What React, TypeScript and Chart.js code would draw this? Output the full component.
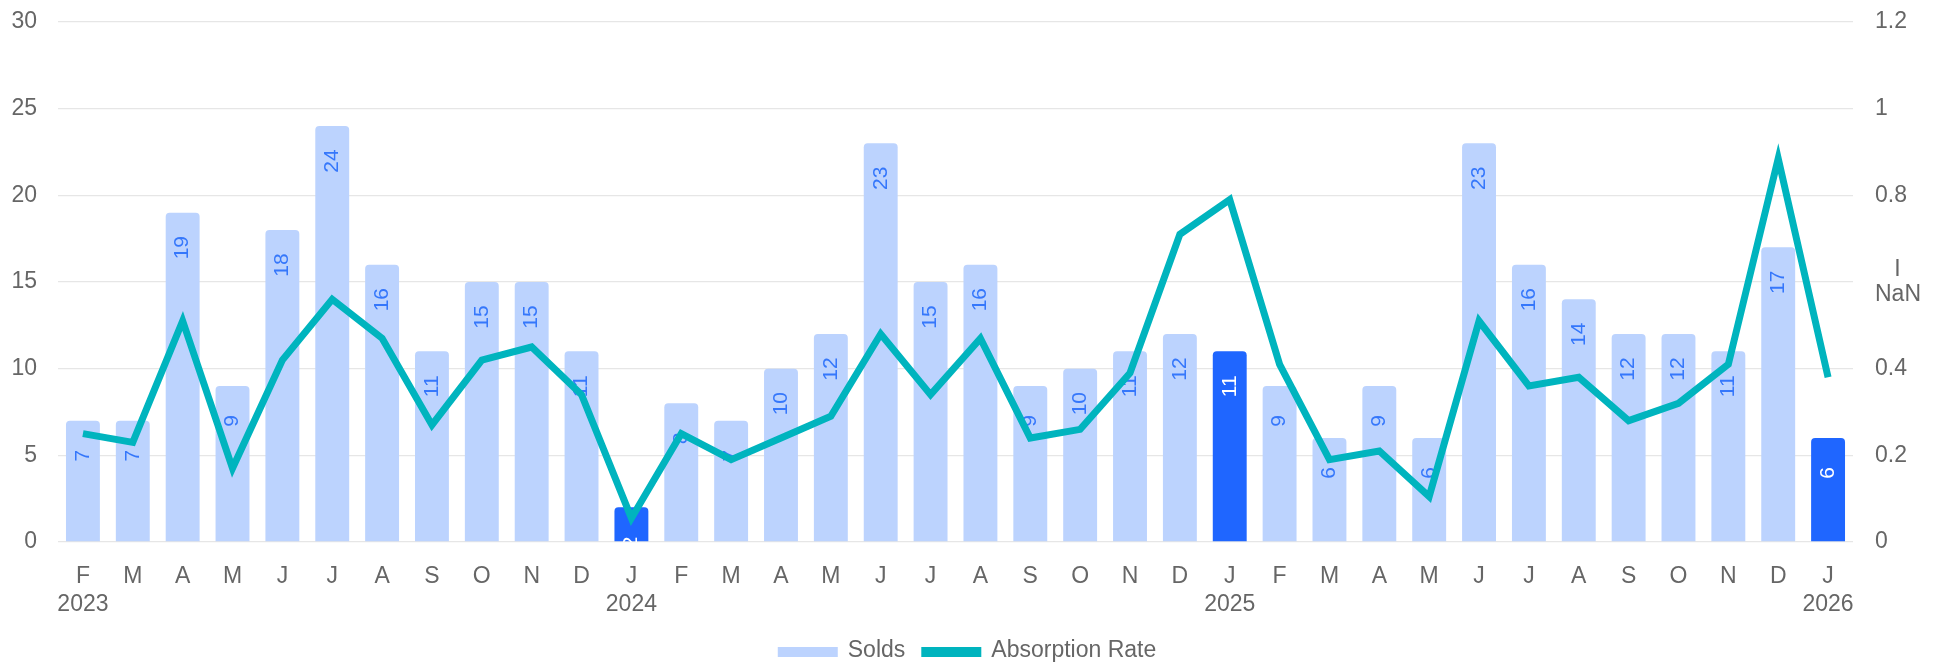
import React, { useEffect, useRef } from "react";
import { Chart, registerables } from "chart.js";

Chart.register(...registerables);

const months = ["F","M","A","M","J","J","A","S","O","N","D","J","F","M","A","M","J","J","A","S","O","N","D","J","F","M","A","M","J","J","A","S","O","N","D","J"];
const years = ["2023","","","","","","","","","","","2024","","","","","","","","","","","","2025","","","","","","","","","","","","2026"];
const solds = [7,7,19,9,18,24,16,11,15,15,11,2,8,7,10,12,23,15,16,9,10,11,12,11,9,6,9,6,23,16,14,12,12,11,17,6];
const absorption = [0.25,0.23,0.51,0.17,0.42,0.56,0.47,0.27,0.42,0.45,0.34,0.055,0.25,0.19,0.24,0.29,0.48,0.34,0.47,0.24,0.26,0.39,0.71,0.79,0.41,0.19,0.21,0.105,0.51,0.36,0.38,0.28,0.32,0.41,0.885,0.38];
const leftTicks = [0,5,10,15,20,25,30];
const rightTicks = [0,0.2,0.4,0.6,0.8,1,1.2];

const LIGHT = "#bcd3fe";
const DARK = "#1f66ff";
const LINE = "#00b4be";
const TEXT = "#666666";
const FONT = "'Liberation Sans', Arial, Helvetica, sans-serif";

const labels = months.map((m, i) => (years[i] ? [m, years[i]] : m));
const isCurrent = (i: number) => months[i] === "J" && years[i] !== "";

const barLabelPlugin = {
  id: "barLabels",
  afterDatasetDraw(chart: any, args: any) {
    if (args.index !== 0) return;
    const { ctx, chartArea } = chart;
    ctx.save();
    ctx.beginPath();
    ctx.rect(chartArea.left, chartArea.top, chartArea.right - chartArea.left, chartArea.bottom - chartArea.top);
    ctx.clip();
    ctx.font = `21px ${FONT}`;
    ctx.textAlign = "center";
    ctx.textBaseline = "middle";
    args.meta.data.forEach((bar: any, i: number) => {
      ctx.save();
      ctx.translate(bar.x, bar.y + 35);
      ctx.rotate(-Math.PI / 2);
      ctx.fillStyle = isCurrent(i) ? "#ffffff" : "#3577fb";
      ctx.fillText(String(solds[i]), 0, 0);
      ctx.restore();
    });
    ctx.restore();
  },
};

const legendPlugin = {
  id: "customLegend",
  afterDraw(chart: any) {
    const { ctx } = chart;
    const items = chart.data.datasets.map((d: any, i: number) => ({
      text: d.label,
      color: i === 0 ? LIGHT : LINE,
    }));
    ctx.save();
    ctx.font = `23px ${FONT}`;
    ctx.textAlign = "left";
    ctx.textBaseline = "middle";
    const boxW = 60;
    const boxH = 10;
    const gap = 10;
    const itemGap = 16;
    const widths = items.map((it: any) => boxW + gap + ctx.measureText(it.text).width);
    const total = widths.reduce((a: number, b: number) => a + b, 0) + itemGap * (items.length - 1);
    let x = 967 - total / 2;
    const y = 652;
    items.forEach((it: any, i: number) => {
      ctx.fillStyle = it.color;
      ctx.fillRect(x, y - boxH / 2, boxW, boxH);
      ctx.fillStyle = TEXT;
      ctx.fillText(it.text, x + boxW + gap, y - 1);
      x += widths[i] + itemGap;
    });
    ctx.restore();
  },
};

export default function App() {
  const ref = useRef<HTMLCanvasElement>(null);
  useEffect(() => {
    const canvas = ref.current!;
    Chart.defaults.font.family = FONT;
    Chart.defaults.color = TEXT;
    const chart = new Chart(canvas, {
      type: "bar",
      data: {
        labels,
        datasets: [
          {
            type: "bar",
            label: "Solds",
            data: solds,
            backgroundColor: solds.map((_, i) => (isCurrent(i) ? DARK : LIGHT)),
            borderRadius: 4,
            borderSkipped: "start",
            barPercentage: 0.85,
            categoryPercentage: 0.8,
            yAxisID: "y",
            order: 1,
          },
          {
            type: "line",
            label: "Absorption Rate",
            data: absorption,
            borderColor: LINE,
            backgroundColor: LINE,
            borderWidth: 7,
            pointRadius: 0,
            tension: 0,
            yAxisID: "y1",
            order: 0,
          },
        ],
      } as any,
      options: {
        animation: false,
        responsive: false,
        devicePixelRatio: 1,
        layout: { padding: { left: 0, right: 0, top: 22, bottom: 34 } },
        plugins: {
          tooltip: { enabled: false },
          legend: { display: false },
        },
        scales: {
          x: {
            grid: { display: false, drawTicks: false },
            border: { display: false },
            ticks: {
              padding: 21,
              maxRotation: 0,
              autoSkip: false,
              color: TEXT,
              font: { size: 23, family: FONT, lineHeight: 1.2 },
            },
            afterFit: (s: any) => { s.height = 89; s.paddingLeft = 0; s.paddingRight = 0; },
          },
          y: {
            position: "left",
            min: leftTicks[0],
            max: leftTicks[leftTicks.length - 1],
            afterBuildTicks: (s: any) => { s.ticks = leftTicks.map((v) => ({ value: v })); },
            grid: { color: "#e6e6e6", lineWidth: 1.3, drawTicks: false },
            border: { display: false },
            ticks: { padding: 21, color: TEXT, font: { size: 23, family: FONT } },
            afterFit: (s: any) => { s.width = 58; s.paddingTop = 0; s.paddingBottom = 0; },
          },
          y1: {
            position: "right",
            min: rightTicks[0],
            max: rightTicks[rightTicks.length - 1],
            afterBuildTicks: (s: any) => { s.ticks = rightTicks.map((v) => ({ value: v })); },
            grid: { display: false, drawTicks: false },
            border: { display: false },
            ticks: {
              padding: 22,
              color: TEXT,
              font: { size: 23, family: FONT, lineHeight: 1.1 },
              callback: (v: any) => (Math.abs(Number(v) - 0.6) < 1e-6 ? ["   I", "NaN"] : String(Math.round(Number(v) * 10) / 10)),
            },
            afterFit: (s: any) => { s.width = 93; s.paddingTop = 0; s.paddingBottom = 0; },
          },
        },
      } as any,
      plugins: [barLabelPlugin, legendPlugin],
    });
    return () => chart.destroy();
  }, []);
  return (
    <div style={{ position: "absolute", left: 0, top: 0, width: 1946, height: 665 }}>
      <canvas ref={ref} width={1946} height={665} style={{ width: 1946, height: 665, display: "block" }} />
    </div>
  );
}
